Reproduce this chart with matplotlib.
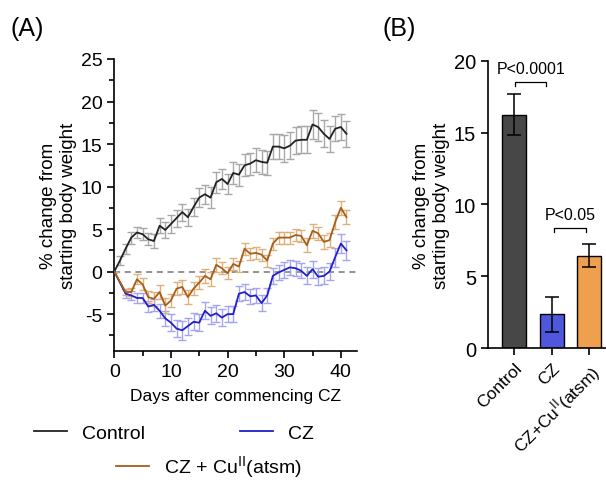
import matplotlib
matplotlib.use("Agg")
import matplotlib.pyplot as plt
import numpy as np
from matplotlib.ticker import MultipleLocator

plt.rcParams['font.family'] = ['Liberation Sans', 'DejaVu Sans']
plt.rcParams['axes.unicode_minus'] = False

# panel A: daily % change from starting weight
days_ctrl = [0, 1, 2, 3, 4, 5, 6, 7, 8, 9, 10, 11, 12, 13, 14, 15, 16, 17, 18, 19, 20,
             21, 22, 23, 24, 25, 26, 27, 28, 29, 30, 31, 32, 33, 34, 35, 36, 37, 38, 39, 40, 41]
ctrl = [0, 1.3, 2.7, 4.0, 4.6, 4.4, 3.8, 3.6, 5.4, 4.9, 5.6, 6.3, 7.0, 6.4, 7.6, 8.7, 9.1, 8.7,
        10.5, 10.9, 10.3, 11.6, 11.4, 12.5, 12.7, 13.1, 12.9, 12.8, 14.7, 14.7, 14.5, 14.8,
        15.4, 15.5, 15.5, 17.3, 17.0, 16.2, 15.6, 16.8, 17.0, 16.2]
ctrl_err = [0, 0.5, 0.6, 0.7, 0.7, 0.7, 0.7, 0.8, 0.9, 0.9, 1.0, 1.0, 1.0, 1.0, 1.1, 1.1, 1.1,
            1.2, 1.2, 1.2, 1.2, 1.3, 1.3, 1.3, 1.3, 1.4, 1.4, 1.4, 1.5, 1.5, 1.6, 1.6, 1.6,
            1.6, 1.6, 1.7, 1.7, 1.6, 1.5, 1.5, 1.5, 1.5]

days_trt = [0, 2, 3, 4, 5, 6, 7, 8, 9, 10, 11, 12, 13, 14, 15, 16, 17, 18, 19, 20,
            21, 22, 23, 24, 25, 26, 27, 28, 29, 30, 31, 32, 33, 34, 35, 36, 37, 38, 39, 40, 41]
cz = [0, -2.6, -2.8, -3.1, -3.1, -4.1, -3.9, -4.6, -5.5, -6.0, -6.7, -6.9, -6.4, -5.9, -6.0,
      -4.6, -5.2, -4.9, -5.4, -5.0, -5.0, -2.6, -2.4, -2.9, -2.8, -3.7, -2.8, -0.5, -0.1,
      0.2, 0.5, 0.4, 0.1, -0.5, 0.3, -0.6, -0.5, 0.0, 1.7, 3.3, 2.5]
cz_err = [0, 0.5, 0.5, 0.6, 0.6, 0.7, 0.7, 0.8, 0.9, 1.0, 1.0, 1.1, 1.0, 1.0, 1.0, 1.0, 1.0,
          1.0, 1.0, 0.9, 0.9, 0.9, 0.9, 0.9, 0.9, 0.9, 0.9, 0.9, 0.9, 0.9, 0.9, 0.9, 0.9,
          1.0, 1.0, 1.0, 1.0, 1.0, 1.1, 1.1, 1.1]
czcu = [0, -2.4, -2.4, -0.9, -1.5, -3.0, -3.2, -2.4, -4.0, -3.4, -2.0, -1.8, -3.0, -2.0, -1.3,
        -0.5, -0.9, 0.8, 0.4, -0.2, 0.9, 0.6, 2.7, 2.1, 2.2, 2.0, 1.3, 3.3, 4.0, 4.0, 4.0,
        4.3, 4.2, 3.1, 4.8, 4.5, 3.5, 3.7, 5.8, 7.5, 6.4]
czcu_err = [0, 0.4, 0.5, 0.6, 0.7, 0.7, 0.8, 0.8, 0.9, 0.8, 0.8, 0.8, 0.8, 0.8, 0.8, 0.8, 0.8,
            0.8, 0.7, 0.7, 0.7, 0.7, 0.7, 0.7, 0.7, 0.7, 0.7, 0.7, 0.7, 0.7, 0.7, 0.7, 0.7,
            0.8, 0.8, 0.8, 0.8, 0.8, 0.8, 0.8, 0.8]

# panel B: final change
groups = ['Control', 'CZ', 'CZ+Cu$^{\\mathrm{II}}$(atsm)']
final = [16.25, 2.36, 6.43]
final_err = [1.45, 1.2, 0.8]
bar_colors = ['#474747', '#4f57dc', '#eea04f']

fig = plt.figure(figsize=(6.06, 4.85), dpi=100)

# ---- (A) ----
axA = fig.add_axes([0.1886, 0.2748, 0.400, 0.6015])
axA.axhline(0, color='#777777', linestyle=(0, (4, 3)), linewidth=1.1, zorder=1)
series = [
    (days_ctrl, ctrl, ctrl_err, '#222222', '#a8a8a8', 'Control'),
    (days_trt, cz, cz_err, '#2020c8', '#a4a4f0', 'CZ'),
    (days_trt, czcu, czcu_err, '#a85d18', '#ddb07c', 'CZ + Cu$^{\\mathrm{II}}$(atsm)'),
]
handles = {}
for d, y, e, lc, ec, lab in series:
    axA.errorbar(d, y, yerr=e, fmt='none', ecolor=ec, elinewidth=1.0, capsize=3,
                 capthick=1.0, zorder=2)
    ln, = axA.plot(d, y, color=lc, linewidth=1.3, zorder=3, label=lab)
    handles[lab] = ln

axA.set_xlim(0, 42.8)
axA.set_ylim(-9.3, 25)
axA.xaxis.set_major_locator(MultipleLocator(10))
axA.xaxis.set_minor_locator(MultipleLocator(5))
axA.yaxis.set_minor_locator(MultipleLocator(2.5))
axA.set_yticks([-5, 0, 5, 10, 15, 20, 25])
axA.spines['top'].set_visible(False)
axA.spines['right'].set_visible(False)
for sp in ['left', 'bottom']:
    axA.spines[sp].set_linewidth(1.2)
axA.tick_params(which='both', direction='out', width=1.2, labelsize=14)
axA.tick_params(which='major', length=5)
axA.tick_params(which='minor', length=3.5)
axA.set_xlabel('Days after commencing CZ', fontsize=12.5, labelpad=6)
axA.set_ylabel('% change from\nstarting body weight', fontsize=13.5, labelpad=3)

# ---- (B) ----
axB = fig.add_axes([0.8053, 0.2798, 0.1947, 0.5930])
xb = np.arange(len(groups))
axB.bar(xb, final, width=0.64, color=bar_colors, edgecolor='black', linewidth=1.0, zorder=2)
axB.errorbar(xb, final, yerr=final_err, fmt='none', ecolor='black', elinewidth=1.1,
             capsize=5, capthick=1.1, zorder=3)
axB.set_xlim(-0.7, 2.45)
axB.set_ylim(0, 20)
axB.set_yticks([0, 5, 10, 15, 20])
axB.set_xticks(xb)
axB.set_xticklabels(groups, rotation=45, ha='right', rotation_mode='anchor', fontsize=12.5)
axB.spines['top'].set_visible(False)
axB.spines['right'].set_visible(False)
for sp in ['left', 'bottom']:
    axB.spines[sp].set_linewidth(1.2)
axB.tick_params(direction='out', width=1.2, length=5)
axB.tick_params(axis='y', labelsize=14.5)
axB.set_ylabel('% change from\nstarting body weight', fontsize=13.5, labelpad=3)

# significance brackets
def bracket(ax, x0, x1, y, text, h=0.25):
    ax.plot([x0 + 0.02, x0 + 0.02, x1 - 0.02, x1 - 0.02], [y - h, y, y, y - h],
            color='black', linewidth=0.9, clip_on=False)
    ax.text((x0 + x1) / 2, y + 0.45, text, ha='center', va='bottom', fontsize=11.5,
            clip_on=False)

bracket(axB, 0.0, 0.88, 18.5, 'P<0.0001')
bracket(axB, 1.05, 1.93, 8.36, 'P<0.05')

# panel letters
fig.text(0.018, 0.940, '(A)', fontsize=18, va='center')
fig.text(0.632, 0.940, '(B)', fontsize=18, va='center')

# legend below panel A
leg_kw = dict(loc='center', frameon=False, fontsize=14, handlelength=1.7, handletextpad=0.77)
leg1 = fig.legend(handles=[handles['Control'], handles['CZ']], bbox_to_anchor=(0.287, 0.105),
                  ncol=2, columnspacing=4.9, **leg_kw)
leg2 = fig.legend(handles=[handles['CZ + Cu$^{\\mathrm{II}}$(atsm)']],
                  bbox_to_anchor=(0.345, 0.036), **leg_kw)

fig.savefig('out.png', dpi=100)
